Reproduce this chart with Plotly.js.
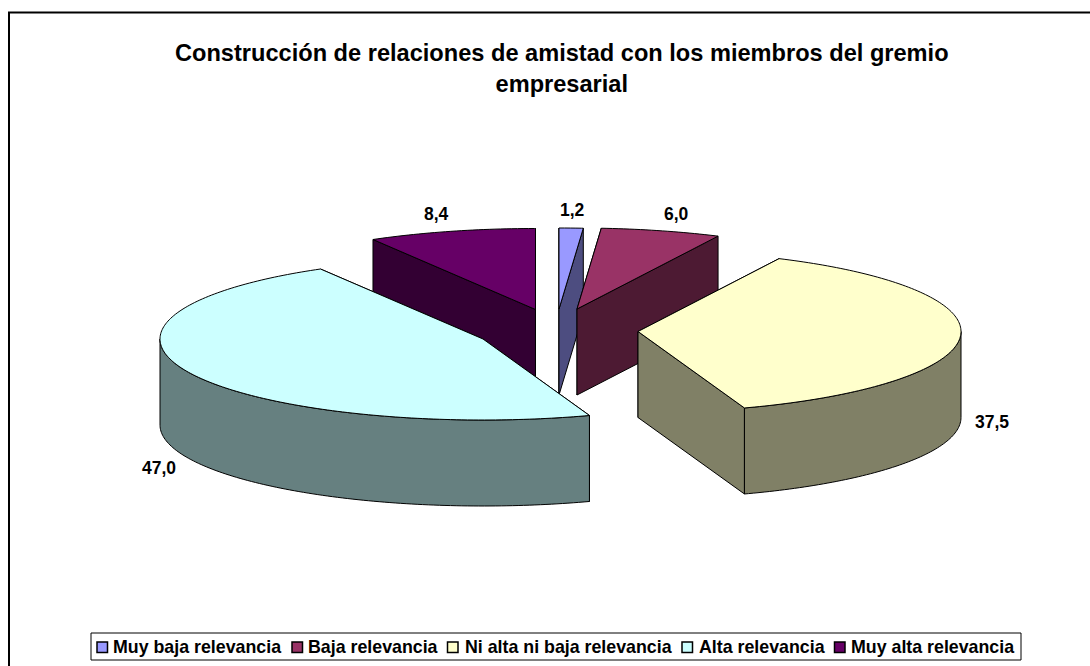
<!DOCTYPE html>
<html>
<head>
<meta charset="utf-8">
<script src="https://cdn.plot.ly/plotly-3.0.1.min.js"></script>
<style>html,body{margin:0;padding:0;background:#fff}</style>
</head>
<body>
<div id="chart" style="width:1090px;height:666px"></div>
<script>
// ---- data ----
const categories = ["Muy baja relevancia", "Baja relevancia", "Ni alta ni baja relevancia", "Alta relevancia", "Muy alta relevancia"];
const values = [1.2, 6.0, 37.5, 47.0, 8.4];
const chartTitle = "Construcción de relaciones de amistad con los miembros del gremio<br>empresarial";

// ---- styles ----
const topColors = ["#9999FF", "#993366", "#FFFFCC", "#CCFFFF", "#660066"];
const wallColors = ["#4D4D80", "#4D1A33", "#808066", "#668080", "#330033"];

// ---- 3D pie geometry (pixels) ----
const RX = 323, RY = 81, DEPTH = 86;
const apexX = [559, 577, 638, 483, 535.5];
const apexY = [309, 309, 331.5, 339, 309.5];
const labelX = [572, 676, 992, 159, 436];
const labelY = [210, 214, 422, 468, 214];
const legendSwatchX = [97, 292, 447.5, 682, 834.5];
const legendTextX = [113, 308, 464.5, 699, 850.5];
const FONT = "Liberation Sans, Arial, sans-serif";

const total = values.reduce((a, b) => a + b, 0);
let cum = 0;
const traces = [];
function addPoly(xs, ys, color) {
  traces.push({type: "scatter", mode: "lines", x: xs, y: ys, fill: "toself", fillcolor: color,
    line: {color: "#000", width: 1, simplify: false}, hoverinfo: "skip", showlegend: false});
}
const slices = values.map((v, i) => {
  const a0 = cum / total * 360; cum += v;
  return {i, a0, a1: cum / total * 360};
});
function rim(s, a) {
  const r = a * Math.PI / 180;
  return [apexX[s.i] + RX * Math.sin(r), apexY[s.i] - RY * Math.cos(r)];
}
function arcAngles(a0, a1) {
  const out = [];
  for (let a = a0; a < a1; a += 1) out.push(a);
  out.push(a1);
  return out;
}
function drawEdgeWall(s, a) {
  const p = rim(s, a), ax = apexX[s.i], ay = apexY[s.i];
  addPoly([ax, p[0], p[0], ax, ax], [ay, p[1], p[1] + DEPTH, ay + DEPTH, ay], wallColors[s.i]);
}
// painter's order, back to front
[4, 0, 1, 2, 3].forEach(idx => {
  const s = slices[idx];
  drawEdgeWall(s, s.a0);
  drawEdgeWall(s, s.a1);
  const w0 = Math.max(s.a0, 90), w1 = Math.min(s.a1, 270);
  if (w1 > w0) {
    const pts = arcAngles(w0, w1).map(a => rim(s, a));
    const xs = pts.map(p => p[0]), ys = pts.map(p => p[1]);
    addPoly(xs.concat(xs.slice().reverse(), [xs[0]]),
            ys.concat(ys.slice().reverse().map(y => y + DEPTH), [ys[0]]), wallColors[s.i]);
  }
  const pts = arcAngles(s.a0, s.a1).map(a => rim(s, a));
  addPoly([apexX[idx]].concat(pts.map(p => p[0]), [apexX[idx]]),
          [apexY[idx]].concat(pts.map(p => p[1]), [apexY[idx]]), topColors[idx]);
});

const annotations = [{
  xref: "x", yref: "y", x: 561.5, y: 68.5, text: "<b>" + chartTitle.replace("<br>", "</b><br><b>") + "</b>",
  showarrow: false, align: "center",
  font: {family: FONT, size: 23.6, color: "#000"}, xanchor: "center", yanchor: "middle"
}];
values.forEach((v, i) => annotations.push({
  xref: "x", yref: "y", x: labelX[i], y: labelY[i], text: "<b>" + v.toFixed(1).replace(".", ",") + "</b>",
  showarrow: false, xanchor: "center", yanchor: "middle", font: {family: FONT, size: 17.5, color: "#000"}
}));
categories.forEach((c, i) => annotations.push({
  xref: "x", yref: "y", x: legendTextX[i], y: 647, text: "<b>" + c + "</b>", showarrow: false,
  xanchor: "left", yanchor: "middle", xshift: -2, font: {family: FONT, size: 17.8, color: "#000"}
}));

const shapes = [
  {type: "rect", xref: "x", yref: "y", x0: 9, y0: 12.5, x1: 1200, y1: 800, line: {color: "#000", width: 2}, layer: "below"},
  {type: "rect", xref: "x", yref: "y", x0: 91, y0: 633, x1: 1021, y1: 660, line: {color: "#000", width: 1}, fillcolor: "#fff", layer: "below"}
];
legendSwatchX.forEach((x, i) => shapes.push({
  type: "rect", xref: "x", yref: "y", x0: x, x1: x + 10.5, y0: 642, y1: 652.5,
  line: {color: "#000", width: 1.5}, fillcolor: topColors[i], layer: "above"
}));

Plotly.newPlot("chart", traces, {
  width: 1090, height: 666, margin: {l: 0, r: 0, t: 0, b: 0},
  paper_bgcolor: "#fff", plot_bgcolor: "#fff", showlegend: false,
  xaxis: {range: [0, 1090], visible: false, fixedrange: true},
  yaxis: {range: [666, 0], visible: false, fixedrange: true},
  annotations, shapes
}, {displayModeBar: false, staticPlot: true});
</script>
</body>
</html>
